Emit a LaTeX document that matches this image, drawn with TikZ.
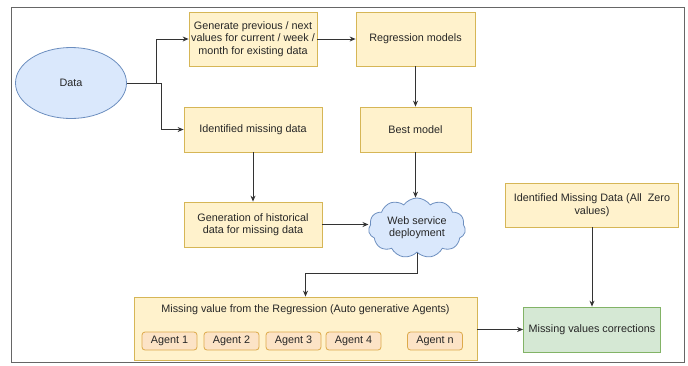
\documentclass[tikz,border=0pt]{standalone}
\usepackage{fontspec}
\setmainfont{Liberation Sans}
\usepackage{tikz}
\usetikzlibrary{arrows.meta, shapes.geometric, shapes.symbols, positioning}

\definecolor{boxfill}{HTML}{FFF2CC}
\definecolor{boxline}{HTML}{D6B656}
\definecolor{bluefill}{HTML}{DAE8FC}
\definecolor{blueline}{HTML}{6C8EBF}
\definecolor{greenfill}{HTML}{D5E8D4}
\definecolor{greenline}{HTML}{82B366}
\definecolor{agentfill}{HTML}{FCE3C6}
\definecolor{agentline}{HTML}{DDAA4A}
\definecolor{linegray}{HTML}{333333}

\begin{document}
\begin{tikzpicture}[x=1pt, y=-1pt,
    every node/.style={font=\fontsize{10.8}{12.4}\selectfont, text=black!85},
    stepbox/.style={draw=boxline, fill=boxfill, line width=0.8pt, align=center, inner sep=2pt},
    agentbox/.style={draw=agentline, fill=agentfill, line width=0.8pt, rounded corners=3pt,
        minimum width=55pt, minimum height=18pt, inner sep=0pt},
    flow/.style={draw=linegray, line width=0.9pt, -{Stealth[length=6pt, width=5pt]}}]

    \useasboundingbox (0,0) rectangle (688,365);
    \draw[gray!80!black, line width=0.9pt] (11,7) rectangle (684,362);

%____________________________________________________________________________________________________
    \node[ellipse, draw=blueline, fill=bluefill, line width=0.8pt,
          minimum width=111pt, minimum height=71pt] (data) at (71,83) {Data};

    \node[stepbox, minimum width=128pt, minimum height=54pt] (gen) at (253,39)
        {Generate previous / next\\values for current / week /\\month for existing data};
    \node[stepbox, minimum width=138pt, minimum height=45pt] (idm) at (253,129.5)
        {Identified missing data};
    \node[stepbox, minimum width=138pt, minimum height=45pt] (hist) at (253,224.5)
        {Generation of historical\\data for missing data};
%____________________________________________________________________________________________________
    \node[stepbox, minimum width=119pt, minimum height=54pt] (reg) at (415.5,39)
        {Regression models};
    \node[stepbox, minimum width=111pt, minimum height=45pt] (best) at (415.5,129.5)
        {Best model};
    \node[cloud, cloud puffs=11, cloud puff arc=110, aspect=1.7, draw=blueline, fill=bluefill,
          line width=0.8pt, minimum width=97pt, minimum height=60pt, inner sep=0pt,
          align=center] (web) at (417,228) {Web service\\deployment};
%____________________________________________________________________________________________________
    \node[stepbox, minimum width=343pt, minimum height=63pt] (miss) at (305.5,328.5) {};
    \node (misstitle) at (305.5,310)
        {Missing value from the Regression (Auto generative Agents)};
    \node[agentbox] (ag1) at (169.5,341) {Agent 1};
    \node[agentbox] (ag2) at (231.5,341) {Agent 2};
    \node[agentbox] (ag3) at (293.5,341) {Agent 3};
    \node[agentbox] (ag4) at (353.5,341) {Agent 4};
    \node[agentbox] (agn) at (435,341) {Agent n};
%____________________________________________________________________________________________________
    \node[stepbox, minimum width=173pt, minimum height=44pt] (zero) at (592,205)
        {Identified Missing Data (All~ Zero\\values)};
    \node[stepbox, draw=greenline, fill=greenfill, minimum width=137pt, minimum height=45pt]
        (corr) at (592,329.5) {Missing values corrections};

%____________________________________________________________________________________________________
    \draw[flow] (data.east) -- ++(30,0) |- (gen.west);
    \draw[flow] (data.east) -- ++(35,0) |- (idm.west);
    \draw[flow] (gen.east) -- (reg.west);
    \draw[flow] (reg.south) -- (best.north);
    \draw[flow] (idm.south) -- (hist.north);
    \draw[flow] (best.south) -- (best.south |- web.north);
    \draw[flow] (hist.east) -- (hist.east -| web.west);
    \draw[flow] (web.south) -- ++(0,21) -| (miss.north);
    \draw[flow] (miss.east |- corr.west) -- (corr.west);
    \draw[flow] (zero.south) -- (corr.north);
\end{tikzpicture}
\end{document}
